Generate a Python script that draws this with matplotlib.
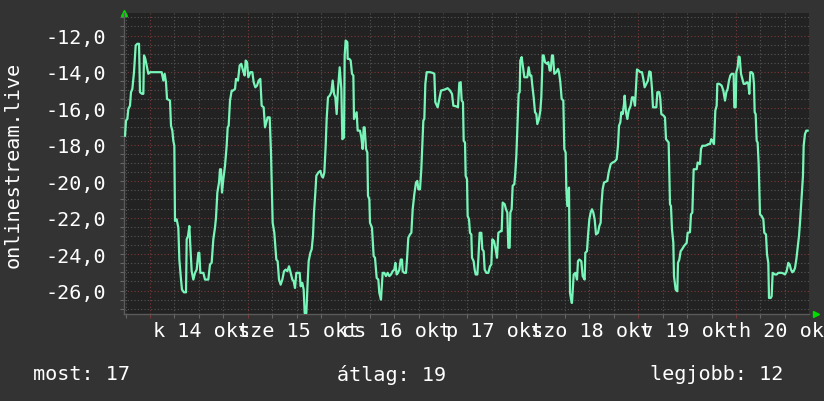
import matplotlib
matplotlib.use("Agg")
import matplotlib.pyplot as plt
import matplotlib.transforms as mtransforms
import numpy as np

# hours since okt 14 00:00, temperature
hours = [
    -6.14, -5.90, -5.57, -5.32, -4.92, -4.67, -4.34, -3.93, -3.52, -3.11,
    -2.70, -2.46, -1.97, -1.64, -1.47, -1.15, -0.82, -0.41, 0.00, 2.87,
    3.28, 3.60, 3.93, 4.18, 4.91, 5.16, 5.49, 5.73, 5.98, 6.14,
    6.55, 6.96, 7.21, 7.62, 7.86, 8.35, 8.85, 9.01, 9.34, 9.67,
    9.91, 10.24, 10.65, 11.06, 11.47, 11.88, 12.12, 12.37, 13.11, 13.52,
    14.33, 14.74, 15.15, 15.56, 15.97, 16.22, 16.55, 16.96, 17.20, 17.45,
    17.69, 18.02, 18.43, 18.84, 19.09, 19.33, 19.66, 20.07, 20.40, 20.89,
    21.13, 21.62, 22.03, 22.44, 22.85, 23.26, 23.51, 23.84, 24.16, 24.66,
    25.15, 25.47, 25.88, 26.29, 26.70, 27.11, 27.44, 27.93, 28.26, 28.59,
    28.91, 29.41, 29.73, 30.14, 30.55, 31.04, 31.37, 31.70, 32.11, 32.52,
    32.93, 33.34, 33.75, 34.16, 34.57, 34.98, 35.30, 35.63, 35.96, 36.37,
    36.78, 37.02, 37.43, 37.76, 38.01, 38.42, 38.66, 38.99, 39.40, 39.73,
    40.05, 40.30, 40.63, 40.87, 41.37, 41.86, 42.18, 42.51, 42.84, 43.17,
    43.41, 43.74, 44.15, 44.56, 44.89, 45.22, 45.54, 45.87, 46.20, 46.61,
    47.02, 47.26, 47.67, 47.84, 48.08, 48.49, 48.57, 48.98, 49.31, 49.64,
    49.97, 50.13, 50.46, 50.78, 51.03, 51.60, 51.93, 52.26, 52.50, 52.75,
    53.08, 53.41, 53.57, 53.90, 54.06, 54.55, 54.96, 55.29, 55.70, 56.11,
    56.35, 56.76, 57.17, 57.58, 57.99, 58.40, 58.81, 59.22, 59.63, 60.04,
    60.29, 60.61, 60.94, 61.27, 61.60, 61.92, 62.09, 62.50, 62.91, 63.15,
    63.48, 63.89, 64.22, 64.55, 64.95, 65.36, 65.69, 65.94, 66.35, 66.67,
    66.92, 67.17, 67.41, 67.66, 67.99, 68.80, 69.46, 69.87, 70.11, 70.69,
    71.10, 71.51, 72.33, 73.15, 73.72, 74.21, 74.54, 75.19, 75.68, 76.01,
    76.34, 76.59, 76.91, 77.08, 77.41, 77.57, 77.90, 78.06, 78.39, 78.63,
    78.96, 79.13, 79.53, 79.78, 80.03, 80.44, 80.68, 81.01, 81.42, 81.66,
    81.99, 82.24, 82.65, 83.14, 83.55, 83.88, 84.12, 84.53, 84.94, 85.27,
    85.60, 86.17, 86.42, 86.66, 87.15, 87.48, 87.81, 88.05, 88.38, 88.55,
    88.87, 89.12, 89.53, 89.77, 90.02, 90.27, 90.59, 90.84, 91.00, 91.33,
    91.66, 91.99, 92.72, 93.05, 93.38, 93.70, 93.95, 94.28, 94.61, 94.93,
    95.18, 95.59, 95.92, 96.16, 96.49, 96.74, 97.06, 97.56, 97.88, 98.21,
    98.46, 98.78, 99.03, 99.36, 99.85, 100.26, 100.50, 100.83, 101.16, 101.57,
    101.81, 102.14, 102.31, 102.55, 102.96, 103.21, 103.62, 103.70, 104.11, 104.52,
    104.93, 105.17, 105.50, 105.99, 106.32, 106.81, 106.97, 107.38, 107.63, 107.96,
    108.28, 108.61, 108.94, 109.27, 109.60, 110.09, 110.41, 110.74, 110.91, 111.23,
    111.56, 111.89, 112.38, 112.71, 113.20, 113.69, 114.18, 114.67, 115.00, 115.25,
    115.57, 115.82, 116.15, 116.48, 116.64, 116.97, 117.30, 117.62, 118.11, 118.44,
    118.77, 119.01, 119.18, 119.42, 119.67, 120.08, 120.49, 120.90, 121.23, 121.55,
    121.96, 122.37, 122.70, 123.03, 123.36, 123.60, 124.01, 124.42, 124.67, 125.16,
    125.40, 125.65, 126.22, 126.55, 126.80, 127.12, 127.45, 127.78, 128.02, 128.27,
    128.60, 128.76, 129.17, 129.58, 129.75, 130.07, 130.40, 130.73, 131.22, 131.55,
    131.88, 132.12, 132.69, 132.94, 133.27, 133.60, 134.33, 134.58, 135.15, 135.40,
    135.73, 136.38, 136.87, 137.20, 137.61, 137.94, 138.26, 138.59, 138.92, 139.25,
    139.41, 139.90, 140.48, 140.89, 141.30, 141.62, 141.95, 142.28, 142.61, 142.93,
    143.42, 143.59, 143.92, 144.08, 144.41, 144.65, 144.90, 145.23, 145.55, 145.88,
    146.29, 146.70, 147.03, 147.27, 147.52, 147.85, 148.18, 148.42, 148.59, 148.83,
    149.08, 149.32, 149.57, 149.90, 150.31, 150.72, 150.96, 151.37, 151.62, 151.94,
    152.11, 152.52, 152.76, 153.01, 153.58, 153.99, 154.40, 155.22, 155.71, 156.04,
    156.45, 156.86, 157.19, 157.51, 157.84, 158.17, 158.50, 158.82, 159.15, 159.48,
    159.73, 160.14, 160.46, 160.63, 160.95, 161.28, 161.61,
]
temp = [
    -17.50, -16.67, -16.58, -16.03, -15.85, -15.11, -14.93, -14.01, -12.54, -12.45,
    -12.45, -15.11, -15.20, -15.20, -13.09, -13.28, -13.64, -14.10, -14.01, -14.01,
    -14.47, -14.10, -14.56, -15.48, -15.57, -16.95, -17.22, -17.78, -18.05, -22.18,
    -22.09, -22.55, -24.30, -25.40, -25.95, -26.10, -26.10, -23.19, -23.01, -22.46,
    -23.56, -24.94, -25.40, -25.03, -24.85, -23.93, -23.93, -25.03, -25.03, -25.40,
    -25.40, -24.57, -24.48, -23.19, -22.55, -22.00, -20.62, -20.07, -19.34, -19.34,
    -20.62, -19.89, -19.15, -18.05, -17.04, -16.95, -15.57, -15.02, -15.02, -14.93,
    -14.38, -14.47, -13.64, -13.55, -13.92, -14.19, -13.37, -13.46, -14.29, -14.01,
    -14.01, -14.56, -14.84, -14.75, -14.47, -14.38, -15.85, -15.94, -17.04, -16.77,
    -16.49, -16.49, -18.42, -22.28, -22.83, -24.30, -24.39, -25.40, -25.68, -25.40,
    -24.94, -24.85, -24.94, -24.67, -25.03, -25.40, -25.49, -25.86, -25.03, -25.03,
    -25.03, -25.77, -25.58, -25.95, -27.24, -27.24, -25.95, -24.39, -23.93, -23.74,
    -23.01, -21.72, -20.62, -19.70, -19.52, -19.43, -19.70, -19.80, -19.52, -18.05,
    -16.58, -15.39, -15.30, -15.11, -14.47, -15.20, -15.39, -16.31, -14.93, -13.74,
    -14.93, -17.69, -17.60, -13.09, -12.27, -12.36, -13.28, -13.28, -13.37, -14.10,
    -14.19, -16.58, -16.40, -16.21, -17.22, -17.22, -17.59, -18.23, -17.04, -17.04,
    -18.23, -18.42, -20.80, -20.99, -22.28, -22.55, -24.11, -24.20, -25.31, -25.40,
    -26.13, -26.50, -25.03, -25.03, -25.21, -25.03, -25.21, -25.12, -24.94, -24.85,
    -24.48, -25.12, -25.03, -24.85, -24.30, -24.30, -24.94, -25.03, -25.03, -24.30,
    -23.10, -22.92, -22.83, -21.54, -20.71, -20.07, -19.98, -20.44, -20.44, -19.34,
    -18.05, -16.67, -16.58, -14.65, -14.01, -14.01, -14.05, -14.10, -15.66, -15.94,
    -15.48, -15.02, -14.97, -14.89, -15.02, -15.20, -15.85, -15.88, -15.94, -14.60,
    -14.56, -15.57, -15.66, -17.78, -17.87, -19.70, -19.89, -21.91, -22.09, -22.83,
    -22.92, -24.20, -24.39, -24.85, -25.12, -25.12, -24.30, -22.83, -22.83, -23.74,
    -23.84, -24.85, -25.03, -25.03, -24.67, -24.57, -23.19, -23.28, -23.74, -24.20,
    -22.83, -22.74, -22.74, -21.17, -21.26, -21.54, -21.72, -23.65, -23.65, -21.72,
    -21.54, -20.25, -20.16, -19.52, -18.60, -17.13, -15.20, -15.11, -13.37, -13.18,
    -13.74, -14.29, -14.29, -13.74, -14.19, -14.19, -14.75, -15.39, -16.21, -16.31,
    -16.86, -16.58, -16.12, -15.39, -13.09, -13.09, -13.46, -13.55, -13.46, -13.92,
    -13.92, -13.09, -13.09, -14.10, -14.01, -13.83, -14.01, -14.56, -15.48, -15.57,
    -18.23, -18.42, -20.44, -21.36, -20.35, -26.13, -26.68, -26.68, -25.12, -25.03,
    -25.40, -24.39, -24.30, -24.39, -25.21, -25.40, -23.93, -23.84, -23.01, -22.09,
    -21.72, -21.54, -21.72, -22.09, -22.92, -22.83, -22.46, -22.28, -21.36, -20.44,
    -20.07, -20.04, -19.98, -19.52, -19.06, -18.97, -18.92, -18.79, -18.05, -16.95,
    -16.77, -16.21, -16.31, -15.76, -15.30, -16.21, -16.58, -16.12, -15.85, -15.39,
    -15.39, -15.66, -15.85, -14.84, -13.86, -13.92, -14.01, -14.01, -14.38, -14.84,
    -14.65, -14.47, -13.97, -14.01, -14.93, -15.94, -15.94, -15.94, -15.11, -15.11,
    -15.48, -16.31, -16.40, -16.49, -17.69, -17.78, -17.87, -21.26, -21.36, -22.64,
    -23.38, -25.21, -25.95, -26.04, -24.48, -24.30, -23.84, -23.74, -23.56, -23.47,
    -23.38, -22.83, -22.80, -21.82, -21.72, -19.34, -19.34, -18.97, -19.06, -18.23,
    -18.05, -18.05, -18.01, -17.96, -17.96, -17.69, -17.78, -17.96, -16.12, -15.85,
    -14.65, -14.65, -14.75, -15.02, -15.57, -15.11, -14.93, -14.47, -14.19, -14.10,
    -14.10, -15.94, -15.94, -14.01, -13.74, -13.15, -13.18, -14.10, -14.38, -14.65,
    -14.65, -14.56, -14.65, -15.20, -14.01, -14.01, -14.10, -14.65, -16.21, -16.31,
    -17.78, -17.87, -19.06, -21.82, -21.91, -22.09, -22.83, -22.92, -24.02, -24.48,
    -26.41, -26.41, -26.32, -25.03, -25.12, -25.12, -25.03, -25.03, -25.07, -25.12,
    -24.94, -24.48, -24.57, -24.85, -25.00, -24.94, -24.76, -24.30, -23.65, -23.01,
    -22.28, -20.80, -19.70, -18.05, -17.41, -17.22, -17.22,
]

day_labels = ["k 14 okt", "sze 15 okt", "cs 16 okt", "p 17 okt",
              "szo 18 okt", "v 19 okt", "h 20 okt"]
y_ticks = [-26, -24, -22, -20, -18, -16, -14, -12]
legend_items = ["most: 17", "átlag: 19", "legjobb: 12"]

plt.rcParams['font.family'] = ['DejaVu Sans Mono', 'DejaVu Sans']
fs = 14.5

fig = plt.figure(figsize=(8.24, 4.02), dpi=100, facecolor='#333333')
ax = fig.add_axes([124 / 824, 1 - 315 / 402, 685 / 824, 301 / 402])
ax.set_facecolor('#222222')

ax.plot(hours, temp, color='#78f5b8', lw=1.6, zorder=3)

ax.set_xlim(-6.39, 161.94)
ax.set_ylim(-27.29, -10.76)

ax.set_xticks(np.arange(0, 145, 24))
ax.set_xticks(np.arange(-6, 162, 6), minor=True)
ax.set_yticks(y_ticks)
ax.set_yticks(np.arange(-27, -10.7, 0.5), minor=True)
ax.set_yticklabels([f"{v:.1f}".replace('.', ',') for v in y_ticks])
ax.set_xticklabels([])

dots = (0, (1, 2))
ax.grid(which='minor', color='#555555', linestyle=dots, lw=0.8)
ax.grid(which='major', color='#7a3838', linestyle=dots, lw=0.8)
ax.set_axisbelow(True)

ax.tick_params(axis='both', which='both', colors='#666666', length=3, width=0.8)
ax.tick_params(axis='y', which='major', labelsize=fs, labelcolor='white', pad=10)
ax.tick_params(axis='x', which='major', colors='#7a3838')

for s in ['top', 'right']:
    ax.spines[s].set_visible(False)
for s in ['bottom', 'left']:
    ax.spines[s].set_color('#5a5a5a')
    ax.spines[s].set_linewidth(1)

trans = mtransforms.blended_transform_factory(ax.transData, ax.transAxes)
for i, lab in enumerate(day_labels):
    ax.text(12.6 + 24 * i, -0.056, lab, transform=trans, ha='center', va='center',
            color='white', fontsize=fs, clip_on=False)

# little green arrows at the axis ends
ax.plot([0], [1.0], marker='^', color='#00dd00', ms=5, transform=ax.transAxes, clip_on=False)
ax.plot([1.01], [0.0], marker='>', color='#00dd00', ms=5, transform=ax.transAxes, clip_on=False)

ax.set_ylabel("onlinestream.live", color='white', fontsize=fs, labelpad=16)

fig.text(33 / 824, 1 - 375 / 402, legend_items[0], color='white', fontsize=fs, va='center')
fig.text(337 / 824, 1 - 375 / 402, legend_items[1], color='white', fontsize=fs, va='center')
fig.text(650 / 824, 1 - 375 / 402, legend_items[2], color='white', fontsize=fs, va='center')

fig.savefig("out.png", dpi=100, facecolor=fig.get_facecolor())
